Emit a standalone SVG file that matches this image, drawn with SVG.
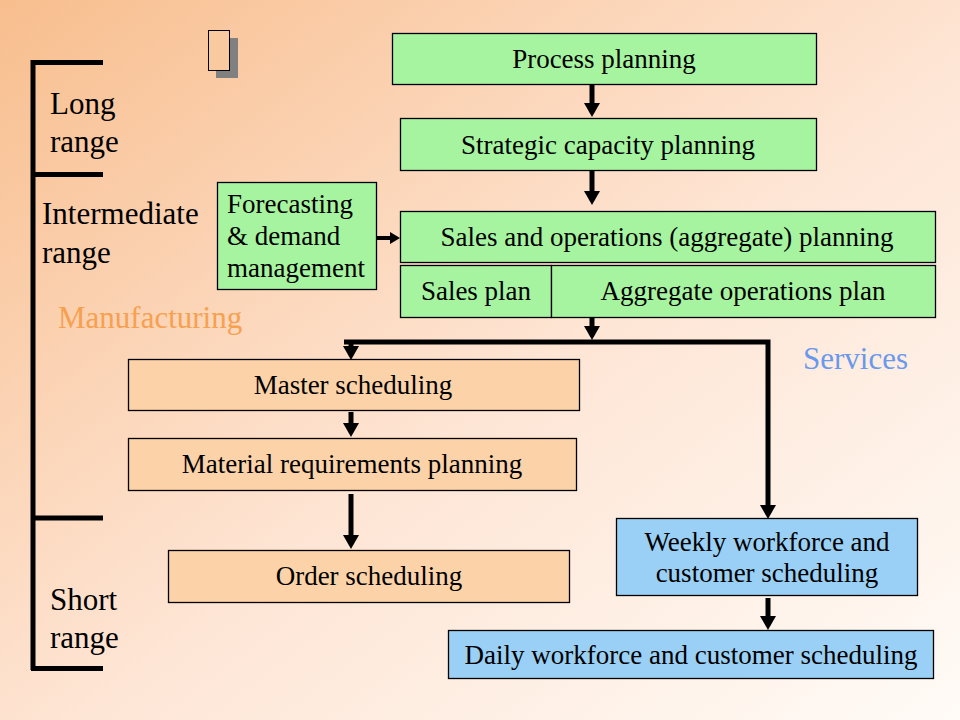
<svg xmlns="http://www.w3.org/2000/svg" width="960" height="720" viewBox="0 0 960 720">
<defs>
<linearGradient id="bg" x1="0" y1="0" x2="1" y2="1">
<stop offset="0" stop-color="#F8BE8E"/>
<stop offset="0.55" stop-color="#FEE6D6"/>
<stop offset="1" stop-color="#FFFBF7"/>
</linearGradient>
<marker id="ah" viewBox="0 0 14 16" refX="1" refY="8" markerWidth="14" markerHeight="16" markerUnits="userSpaceOnUse" orient="auto">
<path d="M0,0 L14,8 L0,16 Z" fill="#000"/>
</marker>
<marker id="ahs" viewBox="0 0 10 12" refX="1" refY="6" markerWidth="10" markerHeight="12" markerUnits="userSpaceOnUse" orient="auto">
<path d="M0,0 L10,6 L0,12 Z" fill="#000"/>
</marker>
</defs>
<style>
text{font-family:'Liberation Serif','DejaVu Serif',serif}
.t{font-size:27px;fill:#000}
.c{text-anchor:middle}
.big{font-size:31px;fill:#000}
.g{fill:#A6F4A0;stroke:#000;stroke-width:1.3}
.p{fill:#FCD3A9;stroke:#000;stroke-width:1.3}
.b{fill:#9AD0F5;stroke:#000;stroke-width:1.3}
.conn{stroke:#000;stroke-width:5;fill:none}
.br{stroke:#000;stroke-width:5;fill:none}
</style>
<rect x="0" y="0" width="960" height="720" fill="url(#bg)"/>

<g id="icon">
<rect x="216" y="38" width="22" height="40" fill="#808080"/>
<rect x="208.5" y="30.5" width="21" height="40" fill="#F9C9A0" stroke="#000" stroke-width="1"/>
</g>

<g id="bracket">
<path class="br" d="M33,60 V670"/>
<path class="br" d="M31,62.5 H103 M31,174.5 H103 M31,518 H103 M31,668.5 H103"/>
</g>

<g id="labels">
<text class="big" x="50" y="114">Long</text>
<text class="big" x="50" y="152">range</text>
<text class="big" x="42" y="224">Intermediate</text>
<text class="big" x="42" y="263">range</text>
<text class="big" x="58" y="328" style="fill:#F7A050">Manufacturing</text>
<text class="big" x="803" y="369" style="fill:#6A98EC">Services</text>
<text class="big" x="50" y="610">Short</text>
<text class="big" x="50" y="648">range</text>
</g>

<g id="process-planning">
<rect class="g" x="392.5" y="33.5" width="424" height="51"/>
<text class="t c" x="604" y="68">Process planning</text>
</g>
<g id="strategic-capacity-planning">
<rect class="g" x="400.5" y="118.5" width="416" height="52"/>
<text class="t c" x="608" y="154">Strategic capacity planning</text>
</g>
<g id="forecasting">
<rect class="g" x="217.5" y="182.5" width="159" height="107"/>
<text class="t" x="227" y="213">Forecasting</text>
<text class="t" x="227" y="245">&amp; demand</text>
<text class="t" x="227" y="277">management</text>
</g>
<g id="sales-operations-planning">
<rect class="g" x="400.5" y="211.5" width="535" height="51"/>
<text class="t c" x="667" y="246">Sales and operations (aggregate) planning</text>
</g>
<g id="sales-plan">
<rect class="g" x="400.5" y="265.5" width="151" height="52"/>
<text class="t c" x="476" y="300">Sales plan</text>
</g>
<g id="aggregate-operations-plan">
<rect class="g" x="551.5" y="265.5" width="384" height="52"/>
<text class="t c" x="743" y="300">Aggregate operations plan</text>
</g>
<g id="master-scheduling">
<rect class="p" x="128.5" y="359.5" width="451" height="51"/>
<text class="t c" x="353" y="394">Master scheduling</text>
</g>
<g id="material-requirements-planning">
<rect class="p" x="128.5" y="438.5" width="448" height="52"/>
<text class="t c" x="352" y="473">Material requirements planning</text>
</g>
<g id="order-scheduling">
<rect class="p" x="168.5" y="550.5" width="401" height="52"/>
<text class="t c" x="369" y="585">Order scheduling</text>
</g>
<g id="weekly-scheduling">
<rect class="b" x="616.5" y="518.5" width="301" height="77"/>
<text class="t c" x="767" y="551">Weekly workforce and</text>
<text class="t c" x="767" y="582">customer scheduling</text>
</g>
<g id="daily-scheduling">
<rect class="b" x="448.5" y="630.5" width="485" height="48"/>
<text class="t c" x="691" y="664">Daily workforce and customer scheduling</text>
</g>

<g id="connectors">
<path class="conn" d="M592,85 V104" marker-end="url(#ah)"/>
<path class="conn" d="M592,171 V192" marker-end="url(#ah)"/>
<path class="conn" d="M377,238 H391" style="stroke-width:4" marker-end="url(#ahs)"/>
<path class="conn" d="M592,318 V327" marker-end="url(#ah)"/>
<path class="conn" d="M344,342 H768 V506" marker-end="url(#ah)"/>
<path class="conn" d="M351,342 V347" marker-end="url(#ah)"/>
<path class="conn" d="M351,412 V424" marker-end="url(#ah)"/>
<path class="conn" d="M351,494 V536" marker-end="url(#ah)"/>
<path class="conn" d="M768,598 V617" marker-end="url(#ah)"/>
</g>
</svg>
